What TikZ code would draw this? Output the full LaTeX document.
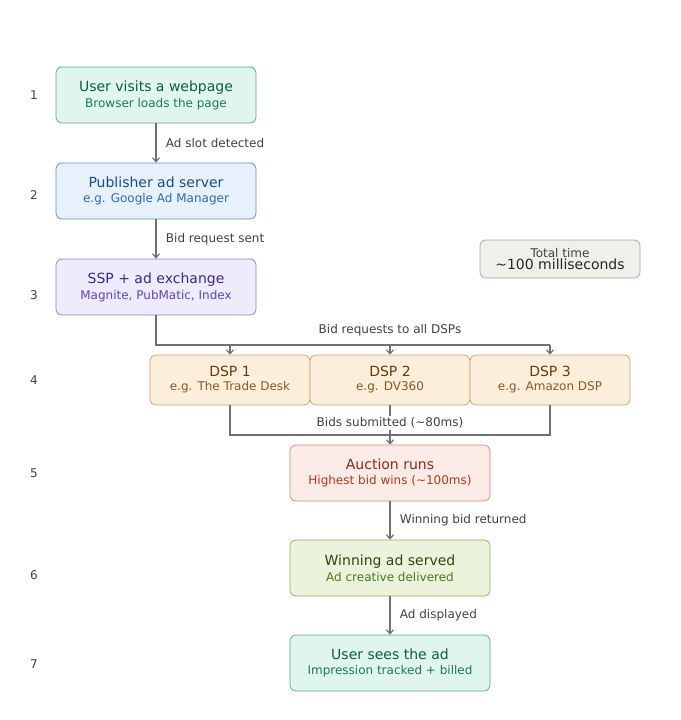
\documentclass[tikz,border=0pt]{standalone}
\usepackage{fontspec}
\setmainfont{DejaVu Sans}
\usetikzlibrary{positioning,arrows.meta}
\definecolor{grnF}{HTML}{E0F5EE}\definecolor{grnD}{HTML}{5AA88A}\definecolor{grnT}{HTML}{0B5E45}\definecolor{grnS}{HTML}{1A7A5A}
\definecolor{bluF}{HTML}{E6F1FC}\definecolor{bluD}{HTML}{5B8FD0}\definecolor{bluT}{HTML}{1A4A8A}\definecolor{bluS}{HTML}{2A6BBF}
\definecolor{purF}{HTML}{EEEBFC}\definecolor{purD}{HTML}{8A7FD8}\definecolor{purT}{HTML}{3A2A8A}\definecolor{purS}{HTML}{5A48C0}
\definecolor{orgF}{HTML}{FBEEDB}\definecolor{orgD}{HTML}{C8A070}\definecolor{orgT}{HTML}{6A3A08}\definecolor{orgS}{HTML}{8A5A20}
\definecolor{redF}{HTML}{FBEBE6}\definecolor{redD}{HTML}{D08A7A}\definecolor{redT}{HTML}{8A2A1A}\definecolor{redS}{HTML}{B03A20}
\definecolor{limF}{HTML}{EBF3DC}\definecolor{limD}{HTML}{8AB060}\definecolor{limT}{HTML}{2A4A08}\definecolor{limS}{HTML}{4A7A18}
\definecolor{gryF}{HTML}{F1EFEA}\definecolor{gryD}{HTML}{A8A49C}
\definecolor{lineC}{HTML}{707070}\definecolor{txtC}{HTML}{404040}
\begin{document}
\begin{tikzpicture}
  [x=1pt,y=-1pt,
   stage/.style={rounded corners=6pt, minimum width=200pt, minimum height=56pt,
     align=center, inner sep=0pt, line width=0.7pt},
   dsp/.style={stage, minimum width=160pt, minimum height=50pt, fill=orgF, draw=orgD},
   num/.style={font=\fontsize{12}{14}\selectfont, text=txtC},
   lbl/.style={font=\fontsize{12}{14}\selectfont, text=txtC},
   arr/.style={-{Straight Barb[length=4pt,width=7pt]}, draw=lineC, line width=1.2pt}]
  \useasboundingbox (0,0) rectangle (680,720);
  % stages
  \node[stage, fill=grnF, draw=grnD] (visit) at (156,95)
    {{\fontsize{14}{17}\selectfont\color{grnT}User visits a webpage}\\[3pt]{\fontsize{12}{14}\selectfont\color{grnS}Browser loads the page}};
  \node[stage, fill=bluF, draw=bluD] (pub) at (156,191)
    {{\fontsize{14}{17}\selectfont\color{bluT}Publisher ad server}\\[3pt]{\fontsize{12}{14}\selectfont\color{bluS}e.g. Google Ad Manager}};
  \node[stage, fill=purF, draw=purD] (ssp) at (156,287)
    {{\fontsize{14}{17}\selectfont\color{purT}SSP + ad exchange}\\[3pt]{\fontsize{12}{14}\selectfont\color{purS}Magnite, PubMatic, Index}};
  \node[dsp] (dspa) at (230,380)
    {{\fontsize{14}{17}\selectfont\color{orgT}DSP 1}\\[2pt]{\fontsize{12}{14}\selectfont\color{orgS}e.g. The Trade Desk}};
  \node[dsp] (dspb) at (390,380)
    {{\fontsize{14}{17}\selectfont\color{orgT}DSP 2}\\[2pt]{\fontsize{12}{14}\selectfont\color{orgS}e.g. DV360}};
  \node[dsp] (dspc) at (550,380)
    {{\fontsize{14}{17}\selectfont\color{orgT}DSP 3}\\[2pt]{\fontsize{12}{14}\selectfont\color{orgS}e.g. Amazon DSP}};
  \node[stage, fill=redF, draw=redD] (auct) at (390,473)
    {{\fontsize{14}{17}\selectfont\color{redT}Auction runs}\\[3pt]{\fontsize{12}{14}\selectfont\color{redS}Highest bid wins (\textasciitilde100ms)}};
  \node[stage, fill=limF, draw=limD] (serve) at (390,568)
    {{\fontsize{14}{17}\selectfont\color{limT}Winning ad served}\\[3pt]{\fontsize{12}{14}\selectfont\color{limS}Ad creative delivered}};
  \node[stage, fill=grnF, draw=grnD] (sees) at (390,663)
    {{\fontsize{14}{17}\selectfont\color{grnT}User sees the ad}\\[3pt]{\fontsize{12}{14}\selectfont\color{grnS}Impression tracked + billed}};
  \node[stage, minimum width=160pt, minimum height=38pt, fill=gryF, draw=gryD] (total) at (560,259)
    {{\fontsize{12}{13}\selectfont\color{txtC}Total time}\\{\fontsize{14}{14}\selectfont\color{black!85}\textasciitilde100 milliseconds}};
  % stage numbers
  \foreach \n/\y in {1/95,2/195,3/295,4/380,5/473,6/575,7/664}
    \node[num] (n\n) at (34,\y) {\n};
  % connectors
  \draw[arr] (visit) -- node[lbl, right=6pt] {Ad slot detected} (pub);
  \draw[arr] (pub) -- node[lbl, right=6pt] {Bid request sent} (ssp);
  \coordinate (fan) at (156,345);
  \coordinate (fanend) at (550,345);
  \coordinate (join) at (390,435);
  \draw[draw=lineC, line width=1.2pt] (ssp.south) -- (fan) -- (fanend);
  \node[lbl] (fanlbl) at (390,330) {Bid requests to all DSPs};
  \foreach \d/\x in {dspa/230,dspb/390,dspc/550}
    \draw[arr] (\x,345) -- (\d.north);
  \draw[draw=lineC, line width=1.2pt] (dspa.south) |- (join) -| (dspc.south);
  \draw[draw=lineC, line width=1.2pt] (dspb.south) -- (join);
  \node[lbl, fill=white, inner sep=2pt] (joinlbl) at (390,423) {Bids submitted (\textasciitilde80ms)};
  \draw[arr] (join) -- (auct);
  \draw[arr] (auct) -- node[lbl, right=6pt] {Winning bid returned} (serve);
  \draw[arr] (serve) -- node[lbl, right=6pt] {Ad displayed} (sees);
\end{tikzpicture}
\end{document}
